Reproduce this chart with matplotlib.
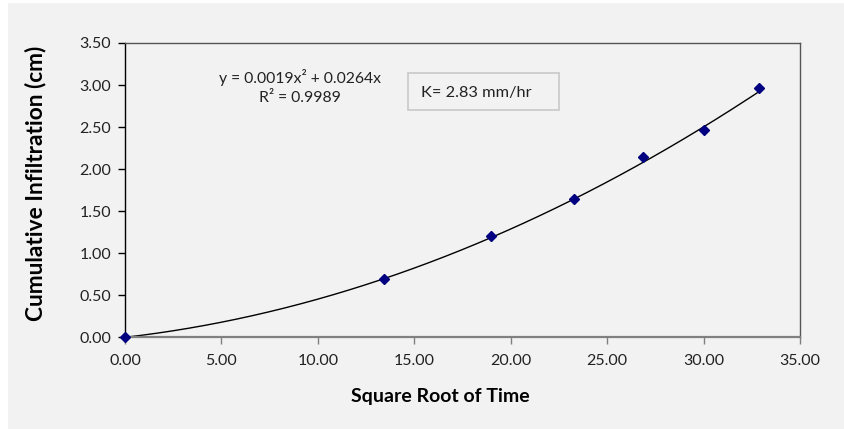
import matplotlib
matplotlib.use("Agg")
import matplotlib.pyplot as plt
import numpy as np
from matplotlib.patches import Rectangle

# Measured cumulative infiltration vs. square root of time
sqrt_time = [0.0, 13.43, 19.0, 23.26, 26.85, 30.0, 32.89]
infiltration = [0.0, 0.69, 1.20, 1.65, 2.15, 2.46, 2.96]

# Polynomial trendline coefficients (y = a*x^2 + b*x)
coef_a = 0.0019
coef_b = 0.0264
r_squared = 0.9989
k_value = 2.83

x_ticks = [0, 5, 10, 15, 20, 25, 30, 35]
y_ticks = [0, 0.5, 1.0, 1.5, 2.0, 2.5, 3.0, 3.5]

plt.rcParams['font.family'] = ['Lato', 'DejaVu Sans']

W, H = 844, 429
fig = plt.figure(figsize=(W / 100, H / 100), dpi=100, facecolor='white')
bg = '#f2f2f2'
fig.patches.append(Rectangle((8 / W, 0), 1 - 8 / W, 1 - 3 / H, transform=fig.transFigure,
                             facecolor=bg, edgecolor='none', zorder=-10))

ax = fig.add_axes([125 / W, (H - 337.3) / H, (800 - 125) / W, (337.3 - 43) / H])
ax.set_facecolor(bg)

# Trendline
xs = np.linspace(0, max(sqrt_time), 200)
ax.plot(xs, coef_a * xs ** 2 + coef_b * xs, color='black', lw=1.0, zorder=2)

# Data points
ax.plot(sqrt_time, infiltration, linestyle='none', marker='D', markersize=5.5,
        color='#000080', zorder=3, clip_on=False)

ax.set_xlim(0, 35)
ax.set_ylim(0, 3.5)
ax.set_xticks(x_ticks)
ax.set_xticklabels([f"{v:.2f}" for v in x_ticks])
ax.set_yticks(y_ticks)
ax.set_yticklabels([f"{v:.2f}" for v in y_ticks])

for side in ('top', 'right'):
    ax.spines[side].set_color('#555555')
    ax.spines[side].set_linewidth(1.0)
ax.spines['left'].set_color('black')
ax.spines['left'].set_linewidth(1.0)
ax.spines['bottom'].set_color('#808080')
ax.spines['bottom'].set_linewidth(1.6)

ax.tick_params(axis='y', direction='out', length=5, width=1, color='black',
               labelsize=11.5, labelcolor='#222222', pad=5)
ax.tick_params(axis='x', direction='out', length=5, width=1, color='#808080',
               labelsize=11.5, labelcolor='#222222', pad=7)

ax.set_xlabel('Square Root of Time', fontsize=14, fontweight='bold')
ax.set_ylabel('Cumulative Infiltration (cm)', fontsize=16.3, fontweight='bold')
ax.xaxis.set_label_coords(0.467, -0.172)
ax.yaxis.set_label_coords(-0.116, 0.522)

# Trendline equation
ax.text(0.259, 0.85, f"y = {coef_a}x\u00b2 + {coef_b}x\nR\u00b2 = {r_squared}",
        transform=ax.transAxes, ha='center', va='center', fontsize=11.3,
        color='#222222', linespacing=1.45)

# Hydraulic conductivity box
ax.add_patch(Rectangle((0.419, 0.772), 0.643 - 0.419, 0.898 - 0.772, transform=ax.transAxes,
                       facecolor=bg, edgecolor='#c8c8c8', lw=1.2, zorder=4))
ax.text(0.4385, 0.8317, f"K= {k_value} mm/hr", transform=ax.transAxes, ha='left',
        va='center', fontsize=11.8, color='#222222', zorder=5)

fig.savefig('out.png', dpi=100, facecolor=fig.get_facecolor())
